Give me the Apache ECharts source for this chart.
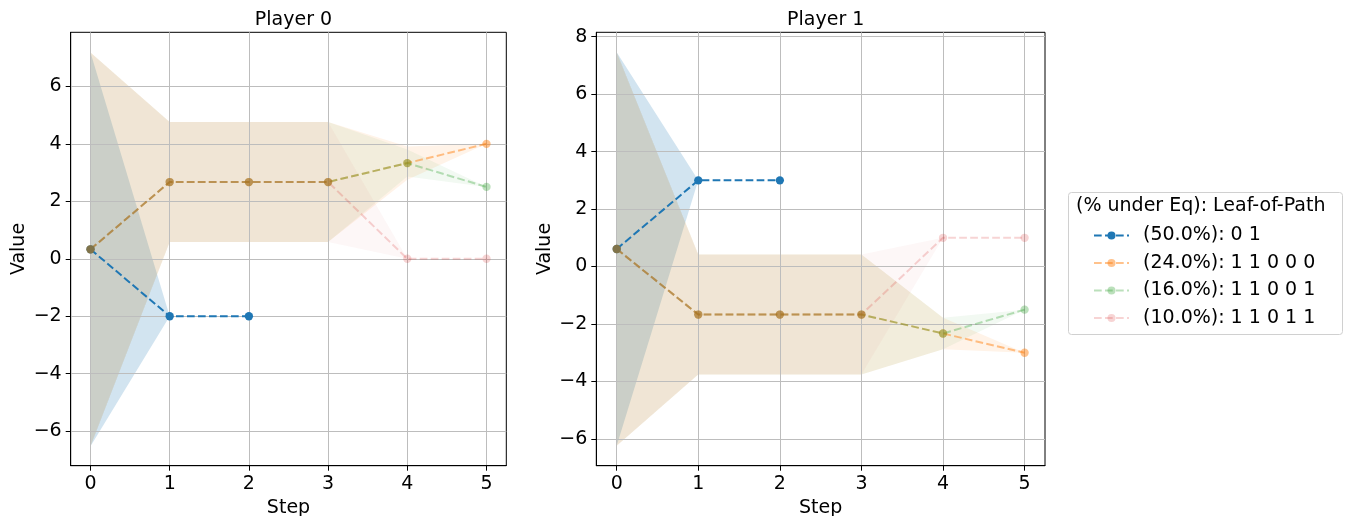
<!DOCTYPE html>
<html>
<head>
<meta charset="utf-8">
<script src="https://cdn.jsdelivr.net/npm/echarts@6/dist/echarts.min.js"></script>
<style>
  html, body { margin: 0; padding: 0; background: #fff; }
  #chart { width: 1350px; height: 516px; }
</style>
</head>
<body>
<div id="chart"></div>
<script>
// x ticks (steps) and y ticks
const steps = [0, 1, 2, 3, 4, 5];
const yTicks0 = [-6, -4, -2, 0, 2, 4, 6];
const yTicks1 = [-6, -4, -2, 0, 2, 4, 6, 8];

const pathNames = ["(50.0%): 0 1", "(24.0%): 1 1 0 0 0", "(16.0%): 1 1 0 0 1", "(10.0%): 1 1 0 1 1"];
const pathColors = ["#1f77b4", "#ff7f0e", "#2ca02c", "#d62728"];
const pathAlpha = [1.0, 0.48, 0.32, 0.2];

// Player 0: mean value per step, and spread (std) per step
const p0Blue = [0.33, -2, -2];
const p0Orange = [0.33, 2.67, 2.67, 2.67, 3.33, 4.0];
const p0Green = [0.33, 2.67, 2.67, 2.67, 3.33, 2.5];
const p0Red = [0.33, 2.67, 2.67, 2.67, 0, 0];
const p0BlueStd = [6.85, 0, 0];
const p0OrangeStd = [6.85, 2.09, 2.09, 2.09, 0.58, 0];
const p0GreenStd = [6.85, 2.09, 2.09, 2.09, 0.47, 0];
const p0RedStd = [6.85, 2.09, 2.09, 2.09, 0, 0];

// Player 1
const p1Blue = [0.61, 3.0, 3.0];
const p1Orange = [0.61, -1.67, -1.67, -1.67, -2.33, -3.0];
const p1Green = [0.61, -1.67, -1.67, -1.67, -2.33, -1.5];
const p1Red = [0.61, -1.67, -1.67, -1.67, 1.0, 1.0];
const p1BlueStd = [6.85, 0, 0];
const p1OrangeStd = [6.85, 2.09, 2.09, 2.09, 0.55, 0];
const p1GreenStd = [6.85, 2.09, 2.09, 2.09, 0.55, 0];
const p1RedStd = [6.85, 2.09, 2.09, 2.09, 0, 0];

const players = [
  { means: [p0Blue, p0Orange, p0Green, p0Red], stds: [p0BlueStd, p0OrangeStd, p0GreenStd, p0RedStd] },
  { means: [p1Blue, p1Orange, p1Green, p1Red], stds: [p1BlueStd, p1OrangeStd, p1GreenStd, p1RedStd] },
];

const FONT = "DejaVu Sans";
const FS = 19;
const minus = (v) => String(v).replace("-", "\u2212");

function hexA(hex, a) {
  const n = parseInt(hex.slice(1), 16);
  return "rgba(" + (n >> 16) + "," + ((n >> 8) & 255) + "," + (n & 255) + "," + a + ")";
}

// fill between mean-std and mean+std, drawn as one polygon
function bandSeries(gi, mean, std, color, alpha) {
  const band = mean.map((m, i) => [steps[i], m - std[i], m + std[i]]);
  return {
    type: "custom",
    name: "band",
    xAxisIndex: gi,
    yAxisIndex: gi,
    z: 0,
    silent: true,
    data: band,
    renderItem: function (params, api) {
      if (params.dataIndex !== 0) return null;
      const top = band.map((b) => api.coord([b[0], b[2]]));
      const bot = band.map((b) => api.coord([b[0], b[1]])).reverse();
      return {
        type: "polygon",
        shape: { points: top.concat(bot) },
        style: { fill: hexA(color, 0.2 * alpha), stroke: null },
      };
    },
  };
}

function lineSeries(gi, mean, k) {
  return {
    type: "line",
    name: pathNames[k],
    xAxisIndex: gi,
    yAxisIndex: gi,
    z: 3,
    data: mean.map((m, i) => [steps[i], m]),
    symbol: "circle",
    symbolSize: 8.3,
    showSymbol: true,
    lineStyle: { color: pathColors[k], width: 2, type: [7.7, 3.3], opacity: pathAlpha[k] },
    itemStyle: { color: pathColors[k], opacity: pathAlpha[k] },
    emphasis: { disabled: true },
    animation: false,
  };
}

const series = [];
players.forEach((p, gi) => {
  p.means.forEach((m, k) => series.push(bandSeries(gi, m, p.stds[k], pathColors[k], pathAlpha[k])));
});
players.forEach((p, gi) => {
  p.means.forEach((m, k) => series.push(lineSeries(gi, m, k)));
});

function xAxis(gi) {
  return {
    type: "value",
    gridIndex: gi,
    min: -0.25,
    max: 5.25,
    z: 1,
    name: "Step",
    nameLocation: "middle",
    nameGap: 31,
    nameTextStyle: { fontFamily: FONT, fontSize: FS, color: "#000" },
    axisLine: { onZero: false, lineStyle: { color: "#000", width: 1 } },
    axisTick: { customValues: steps, length: 5, lineStyle: { color: "#000" } },
    axisLabel: { customValues: steps, fontFamily: FONT, fontSize: FS, color: "#000", margin: 9, formatter: minus },
    splitLine: { show: true, lineStyle: { color: "#bdbdbd", width: 1 } },
  };
}

function yAxis(gi, min, max, ticks) {
  return {
    type: "value",
    gridIndex: gi,
    min: min,
    max: max,
    z: 1,
    name: "Value",
    nameLocation: "middle",
    nameRotate: 90,
    nameGap: 42,
    nameTextStyle: { fontFamily: FONT, fontSize: FS, color: "#000" },
    axisLine: { show: true, onZero: false, lineStyle: { color: "#000", width: 1 } },
    axisTick: { show: true, customValues: ticks, length: 5, lineStyle: { color: "#000" } },
    axisLabel: { customValues: ticks, fontFamily: FONT, fontSize: FS, color: "#000", margin: 9, formatter: minus },
    splitLine: { show: true, lineStyle: { color: "#bdbdbd", width: 1 } },
  };
}

const chart = echarts.init(document.getElementById("chart"), null, { renderer: "canvas" });
chart.setOption({
  animation: false,
  backgroundColor: "#fff",
  title: [
    { text: "Player 0", left: 288.5, top: 6, textAlign: "center",
      textStyle: { fontFamily: FONT, fontSize: FS, fontWeight: "normal", color: "#000" } },
    { text: "Player 1", left: 820.7, top: 6, textAlign: "center",
      textStyle: { fontFamily: FONT, fontSize: FS, fontWeight: "normal", color: "#000" } },
  ],
  grid: [
    { left: 70.7, top: 32.3, width: 435.6, height: 433.4, outerBoundsMode: "none", containLabel: false,
      show: true, borderColor: "#000", borderWidth: 1, backgroundColor: "transparent" },
    { left: 596.3, top: 32.3, width: 448.7, height: 433.4, outerBoundsMode: "none", containLabel: false,
      show: true, borderColor: "#000", borderWidth: 1, backgroundColor: "transparent" },
  ],
  xAxis: [xAxis(0), xAxis(1)],
  yAxis: [yAxis(0, -7.2, 7.88, yTicks0), yAxis(1, -6.93, 8.15, yTicks1)],
  legend: {
    data: pathNames,
    orient: "vertical",
    left: 1088,
    top: 221,
    itemWidth: 35,
    itemHeight: 10,
    itemGap: 8.5,
    selectedMode: false,
    formatter: (name) => "{t|" + name + "}",
    textStyle: {
      fontFamily: FONT, fontSize: FS, color: "#000",
      rich: { t: { fontFamily: FONT, fontSize: FS, color: "#000", padding: [0, 0, 0, 9] } },
    },
  },
  graphic: [
    { type: "rect", left: 1068, top: 192, z: -1,
      shape: { width: 274, height: 142, r: 3 },
      style: { fill: "#fff", stroke: "#d0d0d0", lineWidth: 1 } },
    { type: "text", left: 1076, top: 197, z: 10,
      style: { text: "(% under Eq): Leaf-of-Path", fontFamily: FONT, fontSize: FS, fill: "#000" } },
  ],
  series: series,
});
</script>
</body>
</html>
